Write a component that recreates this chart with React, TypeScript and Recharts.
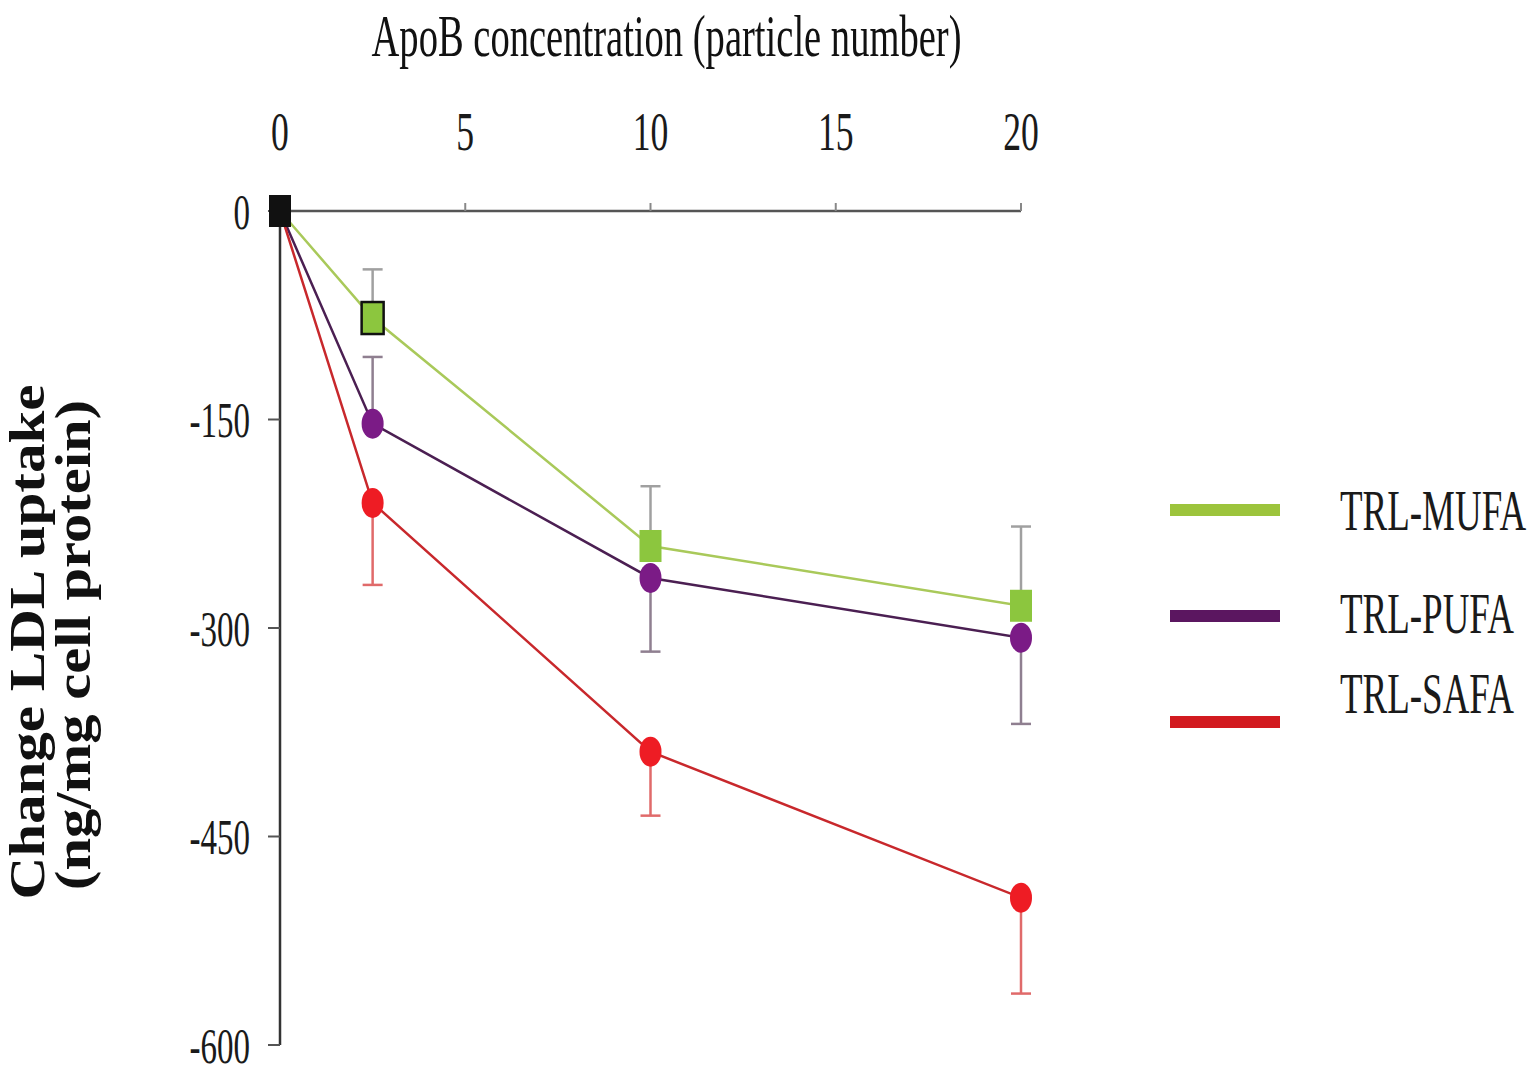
import { LineChart, Line, XAxis, YAxis, ErrorBar, Label } from 'recharts';

// ApoB concentration (particle number)
const concentrations = [0, 2.5, 10, 20];

// change in LDL uptake, ng/mg cell protein
const mufaValues = [0, -77, -241, -284];
const pufaValues = [0, -153, -264, -307];
const safaValues = [0, -210, -389, -494];

// [down, up] error lengths
const mufaErrors = [[0, 0], [0, 35], [0, 43], [0, 57]];
const pufaErrors = [[0, 0], [0, 48], [53, 0], [62, 0]];
const safaErrors = [[0, 0], [59, 0], [46, 0], [69, 0]];

const xTicks = [0, 5, 10, 15, 20];
const yTicks = [0, -150, -300, -450, -600];

const seriesNames = ['TRL-MUFA', 'TRL-PUFA', 'TRL-SAFA'];
const legendColors = ['#9cc43c', '#5b1660', '#d21a1f'];

const data = concentrations.map((x, i) => ({
  x,
  mufa: mufaValues[i],
  mufaErr: mufaErrors[i],
  pufa: pufaValues[i],
  pufaErr: pufaErrors[i],
  safa: safaValues[i],
  safaErr: safaErrors[i],
}));

const FONT = '"Liberation Serif", "DejaVu Serif", serif';

const blackSquare = (cx: number, cy: number, key: string) => (
  <rect key={key} x={cx - 11} y={cy - 16} width={22} height={32} fill="#111" />
);

const mufaDot = (p: any) => {
  const k = `m${p.index}`;
  if (p.index === 0) return blackSquare(p.cx, p.cy, k);
  return (
    <rect
      key={k}
      x={p.cx - 11}
      y={p.cy - 16}
      width={22}
      height={32}
      fill="#8cc63e"
      stroke={p.index === 1 ? '#111' : 'none'}
      strokeWidth={2.5}
    />
  );
};

const ellipseDot = (fill: string, prefix: string) => (p: any) => {
  const k = `${prefix}${p.index}`;
  if (p.index === 0) return blackSquare(p.cx, p.cy, k);
  return <ellipse key={k} cx={p.cx} cy={p.cy} rx={11} ry={15} fill={fill} />;
};

const XTick = (props: any) => {
  const { x, y, payload } = props;
  return (
    <text
      transform={`translate(${x},${y - 51}) scale(0.66,1)`}
      textAnchor="middle"
      fontFamily={FONT}
      fontSize={54}
      fill="#1a1a1a"
    >
      {payload.value}
    </text>
  );
};

const YTick = (props: any) => {
  const { x, y, payload } = props;
  return (
    <text
      transform={`translate(${x},${y}) scale(0.66,1)`}
      textAnchor="end"
      dy="0.35em"
      fontFamily={FONT}
      fontSize={50}
      fill="#1a1a1a"
    >
      {payload.value}
    </text>
  );
};

const TitleLabel = (props: any) => {
  const vb = props.viewBox;
  return (
    <text
      x={vb.x + vb.width / 2 + 16}
      y={56}
      textAnchor="middle"
      fontFamily={FONT}
      fontSize={60}
      textLength={590}
      lengthAdjust="spacingAndGlyphs"
      fill="#111"
    >
      ApoB concentration (particle number)
    </text>
  );
};

const YTitle = (props: any) => {
  const vb = props.viewBox;
  const cy = vb.y + vb.height / 2 + 14;
  return (
    <g fontFamily={FONT} fontWeight="bold" fontSize={50} fill="#111">
      <text
        transform={`translate(44,${cy}) rotate(-90)`}
        textAnchor="middle"
        textLength={515}
        lengthAdjust="spacingAndGlyphs"
      >
        Change LDL uptake
      </text>
      <text
        transform={`translate(90,${cy + 3}) rotate(-90)`}
        textAnchor="middle"
        textLength={490}
        lengthAdjust="spacingAndGlyphs"
      >
        (ng/mg cell protein)
      </text>
    </g>
  );
};

const legendTextY = [60, 163, 243];

const LegendBox = () => (
  <svg width={385} height={280} style={{ position: 'absolute', left: 1150, top: 470 }}>
    {seriesNames.map((name, i) => (
      <g key={name}>
        <line x1={20} x2={130} y1={40 + i * 106} y2={40 + i * 106} stroke={legendColors[i]} strokeWidth={12} />
        <text
          transform={`translate(190,${legendTextY[i]}) scale(0.66,1)`}
          fontFamily={FONT}
          fontSize={56}
          fill="#1a1a1a"
        >
          {name}
        </text>
      </g>
    ))}
  </svg>
);

export default function App() {
  return (
    <div style={{ position: 'absolute', left: 0, top: 0, width: 1535, height: 1073, background: '#fff' }}>
      <LineChart width={1535} height={1073} data={data} margin={{ top: 0, right: 514, bottom: 28, left: 0 }}>
        <XAxis
          type="number"
          dataKey="x"
          orientation="top"
          height={211}
          domain={[0, 20]}
          ticks={xTicks}
          axisLine={{ stroke: '#555', strokeWidth: 2.5 }}
          tickLine={{ stroke: '#888', strokeWidth: 2 }}
          tickSize={8}
          tick={<XTick />}
        >
          <Label content={<TitleLabel />} />
        </XAxis>
        <YAxis
          type="number"
          width={280}
          domain={[-600, 0]}
          ticks={yTicks}
          axisLine={{ stroke: '#333', strokeWidth: 2.5 }}
          tickLine={{ stroke: '#555', strokeWidth: 2 }}
          tickSize={12}
          tickMargin={18}
          tick={<YTick />}
        >
          <Label content={<YTitle />} />
        </YAxis>
        <Line
          dataKey="mufa"
          name={seriesNames[0]}
          stroke="#a9c95a"
          strokeWidth={2.5}
          dot={mufaDot}
          activeDot={false}
          isAnimationActive={false}
        >
          <ErrorBar dataKey="mufaErr" direction="y" stroke="#a0a0a0" strokeWidth={2.5} width={10} />
        </Line>
        <Line
          dataKey="pufa"
          name={seriesNames[1]}
          stroke="#4b1f52"
          strokeWidth={2.5}
          dot={ellipseDot('#7b1b86', 'p')}
          activeDot={false}
          isAnimationActive={false}
        >
          <ErrorBar dataKey="pufaErr" direction="y" stroke="#8f7f90" strokeWidth={2.5} width={10} />
        </Line>
        <Line
          dataKey="safa"
          name={seriesNames[2]}
          stroke="#c8282c"
          strokeWidth={2.5}
          dot={ellipseDot('#ee1c24', 's')}
          activeDot={false}
          isAnimationActive={false}
        >
          <ErrorBar dataKey="safaErr" direction="y" stroke="#e06a6a" strokeWidth={2.5} width={10} />
        </Line>
      </LineChart>
      <LegendBox />
    </div>
  );
}
